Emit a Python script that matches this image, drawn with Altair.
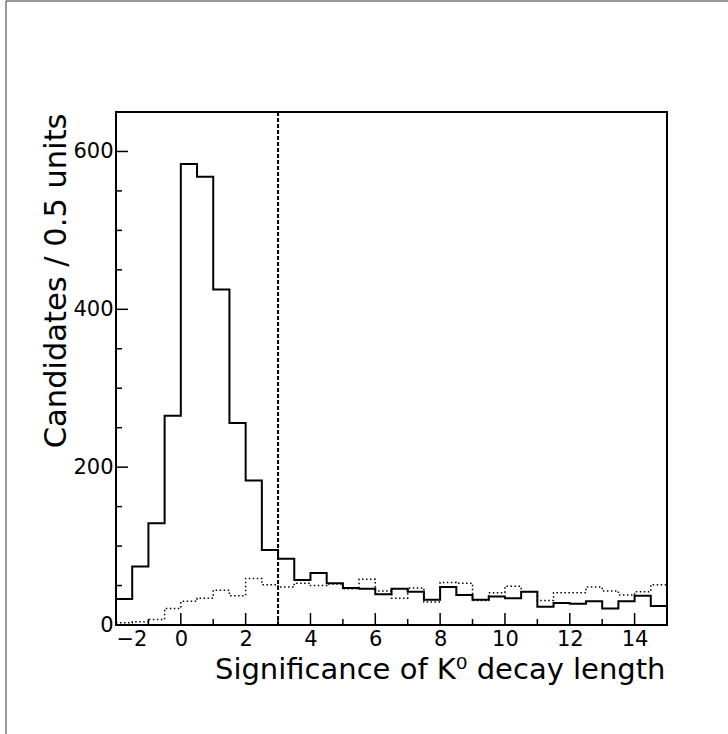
import altair as alt
import pandas as pd

# bin lower edges (0.5 units wide), last edge 15
bin_lo = [-2.0, -1.5, -1.0, -0.5, 0.0, 0.5, 1.0, 1.5, 2.0, 2.5, 3.0, 3.5,
          4.0, 4.5, 5.0, 5.5, 6.0, 6.5, 7.0, 7.5, 8.0, 8.5, 9.0, 9.5,
          10.0, 10.5, 11.0, 11.5, 12.0, 12.5, 13.0, 13.5, 14.0, 14.5]
x_end = 15.0
solid = [33, 74, 129, 265, 584, 568, 425, 256, 183, 95, 84, 57,
         66, 53, 47, 46, 39, 46, 42, 32, 48, 38, 32, 36,
         34, 42, 23, 28, 27, 30, 21, 30, 37, 24]
dotted = [3, 4, 7, 21, 30, 34, 44, 37, 59, 51, 48, 53,
          50, 52, 46, 58, 43, 34, 47, 29, 54, 53, 31, 41,
          49, 42, 31, 41, 41, 48, 43, 38, 42, 51]
cut_value = [3.0]
x_major = [-2, 0, 2, 4, 6, 8, 10, 12, 14]
x_minor = [-1, 1, 3, 5, 7, 9, 11, 13]
y_major = [0, 200, 400, 600]
y_minor = [50, 100, 150, 250, 300, 350, 450, 500, 550]

W, H = 551, 513
PAD = {"left": 116, "top": 112, "right": 728 - 116 - W, "bottom": 734 - 112 - H}
FONT = "DejaVu Sans"


def step_table(vals):
    return pd.DataFrame({"x": bin_lo + [x_end], "y": vals + [vals[-1]]})


xs = alt.Scale(domain=[-2, 15], nice=False, zero=False)
ys = alt.Scale(domain=[0, 650], nice=False, zero=False)

x_axis = alt.Axis(values=x_major, ticks=False, tickSize=0, domain=False, grid=False,
                  labelFont=FONT, labelFontSize=21, labelColor="black", labelPadding=3,
                  labelBaseline="top",
                  title="Significance of K⁰ decay length", titleFont=FONT,
                  titleFontSize=29, titleFontWeight="normal", titleColor="black",
                  titleX=W - 2, titleY=53, titleAlign="right", titleBaseline="alphabetic")
y_axis = alt.Axis(values=y_major, ticks=False, tickSize=0, domain=False, grid=False,
                  labelFont=FONT, labelFontSize=21, labelColor="black", labelPadding=3,
                  title="Candidates / 0.5 units", titleFont=FONT,
                  titleFontSize=30.5, titleFontWeight="normal", titleColor="black",
                  titleX=-51, titleY=1, titleAlign="right", titleAngle=-90,
                  titleBaseline="alphabetic")

X = alt.X("x:Q", scale=xs, axis=x_axis)
Y = alt.Y("y:Q", scale=ys, axis=y_axis)

solid_line = alt.Chart(step_table(solid)).mark_line(
    interpolate="step-after", color="black", strokeWidth=2
).encode(x=X, y=Y)

dotted_line = alt.Chart(step_table(dotted)).mark_line(
    interpolate="step-after", color="black", strokeWidth=1.5, strokeDash=[1.5, 2.5]
).encode(x=X, y=Y)

cut = alt.Chart(pd.DataFrame({"x": cut_value})).mark_rule(
    color="black", strokeWidth=2, strokeDash=[4, 2]
).encode(x=X, y=alt.value(0), y2=alt.value(H))

xt_major = alt.Chart(pd.DataFrame({"x": x_major})).mark_rule(color="black", strokeWidth=1.5).encode(
    x=X, y=alt.value(H), y2=alt.value(H - 12))
xt_minor = alt.Chart(pd.DataFrame({"x": x_minor})).mark_rule(color="black", strokeWidth=1.5).encode(
    x=X, y=alt.value(H), y2=alt.value(H - 6))
yt_major = alt.Chart(pd.DataFrame({"y": y_major})).mark_rule(color="black", strokeWidth=1.5).encode(
    y=Y, x=alt.value(0), x2=alt.value(12))
yt_minor = alt.Chart(pd.DataFrame({"y": y_minor})).mark_rule(color="black", strokeWidth=1.5).encode(
    y=Y, x=alt.value(0), x2=alt.value(6))

border_left = alt.Chart(pd.DataFrame({"a": [0]})).mark_rule(color="#333333", strokeWidth=1).encode(
    x=alt.value(-110), y=alt.value(-111), y2=alt.value(H + PAD["bottom"]))
border_top = alt.Chart(pd.DataFrame({"a": [0]})).mark_rule(color="#333333", strokeWidth=1).encode(
    y=alt.value(-111), x=alt.value(-110), x2=alt.value(W + PAD["right"]))

chart = alt.layer(
    solid_line, dotted_line, cut, xt_major, xt_minor, yt_major, yt_minor, border_left, border_top
).properties(
    width=W, height=H, padding=PAD, autosize=alt.AutoSizeParams(type="none"),
    background="white"
).configure_view(stroke="black", strokeWidth=2)

chart.save("out.html", embed_options={"renderer": "svg", "actions": False})
